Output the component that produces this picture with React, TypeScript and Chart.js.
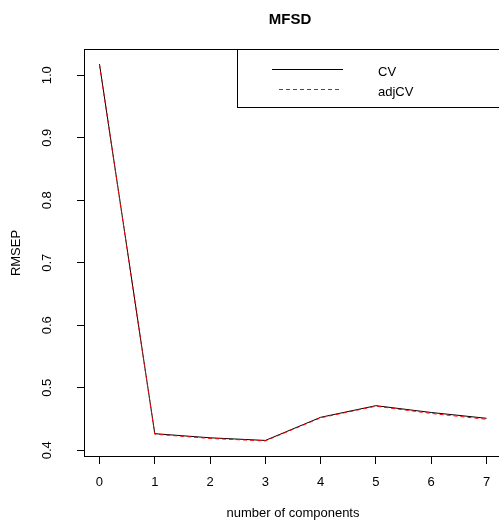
import React, { useEffect, useRef } from "react";
import { Chart, registerables } from "chart.js";

Chart.register(...registerables);

// Cross-validated RMSEP by number of PLS components
const COMPONENTS = [0, 1, 2, 3, 4, 5, 6, 7];
const CV = [1.018, 0.4266, 0.42, 0.4158, 0.4528, 0.4714, 0.4605, 0.4512];
const ADJ_CV = [1.017, 0.4258, 0.419, 0.415, 0.452, 0.4706, 0.459, 0.4496];
const Y_TICKS = [0.4, 0.5, 0.6, 0.7, 0.8, 0.9, 1.0];
const X_TICKS = [0, 1, 2, 3, 4, 5, 6, 7];

const TITLE = "MFSD";
const X_TITLE = "number of components";
const Y_TITLE = "RMSEP";
const SERIES_NAMES = ["CV", "adjCV"];

const FONT = "'Liberation Sans', Arial, Helvetica, sans-serif";
const W = 504;
const H = 522;

const framePlugin = {
  id: "frame",
  afterDraw(chart: any) {
    const { ctx, chartArea } = chart;
    const { left, top, right, bottom } = chartArea;
    ctx.save();
    // plot box
    ctx.strokeStyle = "#000";
    ctx.lineWidth = 1;
    ctx.setLineDash([]);
    ctx.strokeRect(left + 0.5, top + 0.5, right - left - 1, bottom - top - 1);

    // main title
    ctx.fillStyle = "#000";
    ctx.font = `bold 15px ${FONT}`;
    ctx.textAlign = "center";
    ctx.textBaseline = "middle";
    ctx.fillText(TITLE, (left + right) / 2 - 3, 20);

    // legend box in the top-right corner
    const lx = 237;
    ctx.strokeRect(lx + 0.5, top + 0.5, W - lx + 10, 58);
    const ds = chart.data.datasets;
    const rows = [69.5, 89.5];
    ds.forEach((d: any, i: number) => {
      ctx.beginPath();
      ctx.strokeStyle = d.borderColor;
      ctx.lineWidth = d.borderWidth;
      ctx.setLineDash(d.borderDash || []);
      const x0 = d.borderDash ? 279 : 272;
      const x1 = d.borderDash ? 341 : 343;
      ctx.moveTo(x0, rows[i]);
      ctx.lineTo(x1, rows[i]);
      ctx.stroke();
      ctx.setLineDash([]);
      ctx.fillStyle = "#000";
      ctx.font = `13px ${FONT}`;
      ctx.textAlign = "left";
      ctx.textBaseline = "middle";
      ctx.fillText(d.label, 378, rows[i] + 2.5);
    });
    ctx.restore();
  },
};

export default function App() {
  const ref = useRef<HTMLCanvasElement | null>(null);

  useEffect(() => {
    if (!ref.current) return;
    const chart = new Chart(ref.current, {
      type: "line",
      data: {
        datasets: [
          {
            label: SERIES_NAMES[0],
            data: COMPONENTS.map((c, i) => ({ x: c, y: CV[i] })),
            borderColor: "#000000",
            borderWidth: 1,
            pointRadius: 0,
            tension: 0,
            order: 2,
          },
          {
            label: SERIES_NAMES[1],
            data: COMPONENTS.map((c, i) => ({ x: c, y: ADJ_CV[i] })),
            borderColor: "#ff0000",
            borderWidth: 1,
            borderDash: [4, 3],
            pointRadius: 0,
            tension: 0,
            order: 1,
          },
        ],
      },
      options: {
        responsive: false,
        animation: false,
        devicePixelRatio: 1,
        layout: { padding: { top: 49, left: 0, right: 2, bottom: 0 } },
        plugins: {
          legend: { display: false },
          title: { display: false },
          tooltip: { enabled: false },
        },
        scales: {
          x: {
            type: "linear",
            min: -0.28,
            max: 7.28,
            afterBuildTicks: (s: any) => {
              s.ticks = X_TICKS.map((v) => ({ value: v }));
            },
            afterFit: (s: any) => {
              s.height = 65;
            },
            grid: {
              display: true,
              drawOnChartArea: false,
              drawTicks: true,
              tickLength: 7,
              color: "#000",
              lineWidth: 1,
            },
            border: { display: false },
            ticks: {
              color: "#000",
              font: { family: FONT, size: 13 },
              padding: 10.7,
              maxRotation: 0,
              autoSkip: false,
              callback: (v: any) => String(v),
            },
            title: {
              display: true,
              text: X_TITLE,
              color: "#000",
              font: { family: FONT, size: 13 },
              padding: { top: 0, bottom: 0.9 },
            },
          },
          y: {
            type: "linear",
            min: 0.38928,
            max: 1.04208,
            afterBuildTicks: (s: any) => {
              s.ticks = Y_TICKS.map((v) => ({ value: v }));
            },
            afterFit: (s: any) => {
              s.width = 84;
            },
            grid: {
              display: true,
              drawOnChartArea: false,
              drawTicks: true,
              tickLength: 7,
              color: "#000",
              lineWidth: 1,
            },
            border: { display: false },
            ticks: {
              color: "#000",
              font: { family: FONT, size: 13 },
              padding: 21,
              minRotation: 90,
              maxRotation: 90,
              crossAlign: "center",
              autoSkip: false,
              callback: (v: any) => Number(v).toFixed(1),
            },
            title: {
              display: true,
              text: Y_TITLE,
              color: "#000",
              font: { family: FONT, size: 13 },
              padding: { top: 8.7, bottom: 0 },
            },
          },
        },
      },
      plugins: [framePlugin],
    });
    return () => chart.destroy();
  }, []);

  return (
    <div
      style={{
        position: "fixed",
        left: 0,
        top: 0,
        width: 499,
        height: H,
        overflow: "hidden",
        background: "#fff",
      }}
    >
      <canvas ref={ref} width={W} height={H} style={{ display: "block", width: W, height: H }} />
    </div>
  );
}
